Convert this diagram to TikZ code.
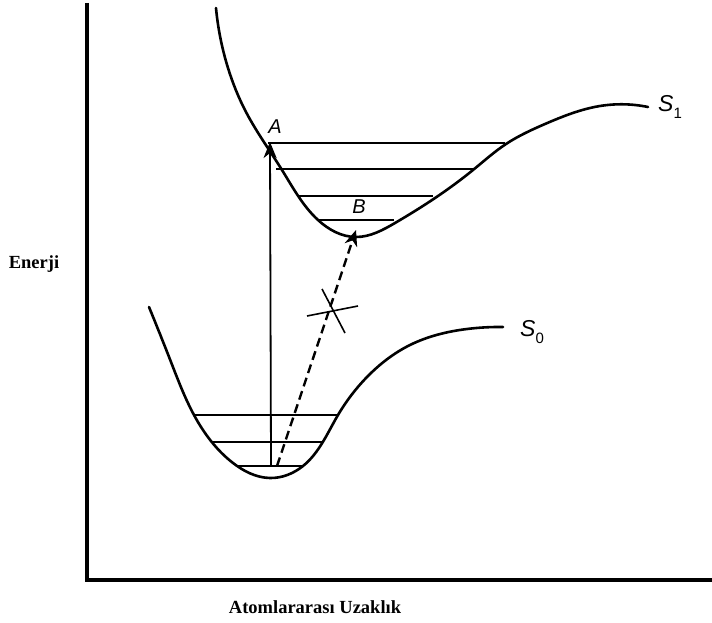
\documentclass[tikz,border=0pt]{standalone}
\usepackage{fontspec}
\setmainfont{Liberation Serif}
\newfontfamily\labelfont{Liberation Sans}
\usetikzlibrary{positioning,arrows.meta,hobby}

\newcommand{\statesub}[1]{\raisebox{-0.3em}{\fontsize{15}{15}\selectfont\upshape #1}}

\begin{document}
\begin{tikzpicture}[
        x=1pt, y=-1pt,
        axis/.style={line width=3.5pt},
        curve/.style={line width=2.6pt, line join=round, line cap=round, use Hobby shortcut},
        level/.style={line width=1.6pt},
        transition/.style={-{Stealth[length=16pt,width=13pt,inset=5pt]}, line width=1.8pt},
        forbidden/.style={-{Stealth[length=16pt,width=13pt,inset=5pt]}, line width=2.4pt, dash pattern=on 9pt off 5pt},
        statelabel/.style={font=\labelfont\itshape\fontsize{20}{20}\selectfont, inner sep=1pt},
        statename/.style={font=\labelfont\itshape\fontsize{23}{23}\selectfont, inner sep=1pt},
        axislabel/.style={font=\bfseries\fontsize{18.5}{18.5}\selectfont, inner sep=1pt}
    ]
    \useasboundingbox (0,0) rectangle (712,623);

    % axes
    \coordinate (origin) at (87,580);
    \coordinate (ytop) at (87,3);
    \coordinate (xend) at (712,580);
    \draw[axis] (ytop) -- (origin) -- (xend);

    \node[axislabel] (energy) at (34,264) {Enerji};
    \node[axislabel] (distance) at (315,607) {Atomlararası Uzaklık};

    % excited state S1
    \draw[curve] (216,8) .. (228,68) .. (246,112) .. (282,170) .. (318,220)
        .. (356,237) .. (395,223) .. (473,170) .. (506,144) .. (545,124)
        .. (600,106) .. (648,107);
    \draw[level] (268,143) -- (505,143);
    \draw[level] (276,169) -- (473,169);
    \draw[level] (298,196) -- (433,196);
    \draw[level] (318,220) -- (394,220);

    % ground state S0
    \draw[curve] (149,307) .. (171,362) .. (194,415) .. (233,463) .. (270,478)
        .. (303,466) .. (338,415) .. (367,377) .. (410,345) .. (467,329)
        .. (503,327);
    \draw[level] (193,415) -- (338,415);
    \draw[level] (213,442) -- (323,442);
    \draw[level] (236,466) -- (302,466);

    % levels used by the transitions
    \coordinate (ground) at (271,466);
    \coordinate (stateA) at (270,142);
    \coordinate (dashstart) at (277,466);
    \coordinate (stateB) at (356,230);

    \draw[transition] (ground) -- (stateA);
    \draw[forbidden] (dashstart) -- (stateB);

    % crossed-out mark
    \coordinate (crossL) at (307,316);
    \coordinate (crossR) at (358,306);
    \coordinate (crossT) at (322,289);
    \coordinate (crossB) at (345,333);
    \draw[level] (crossL) -- (crossR);
    \draw[level] (crossT) -- (crossB);

    \node[statelabel] (labelA) at (275,127) {A};
    \node[statelabel] (labelB) at (359,207) {B};
    \node[statename] (labelS1) at (670,107) {S\statesub{1}};
    \node[statename] (labelS0) at (532,332) {S\statesub{0}};
\end{tikzpicture}
\end{document}
